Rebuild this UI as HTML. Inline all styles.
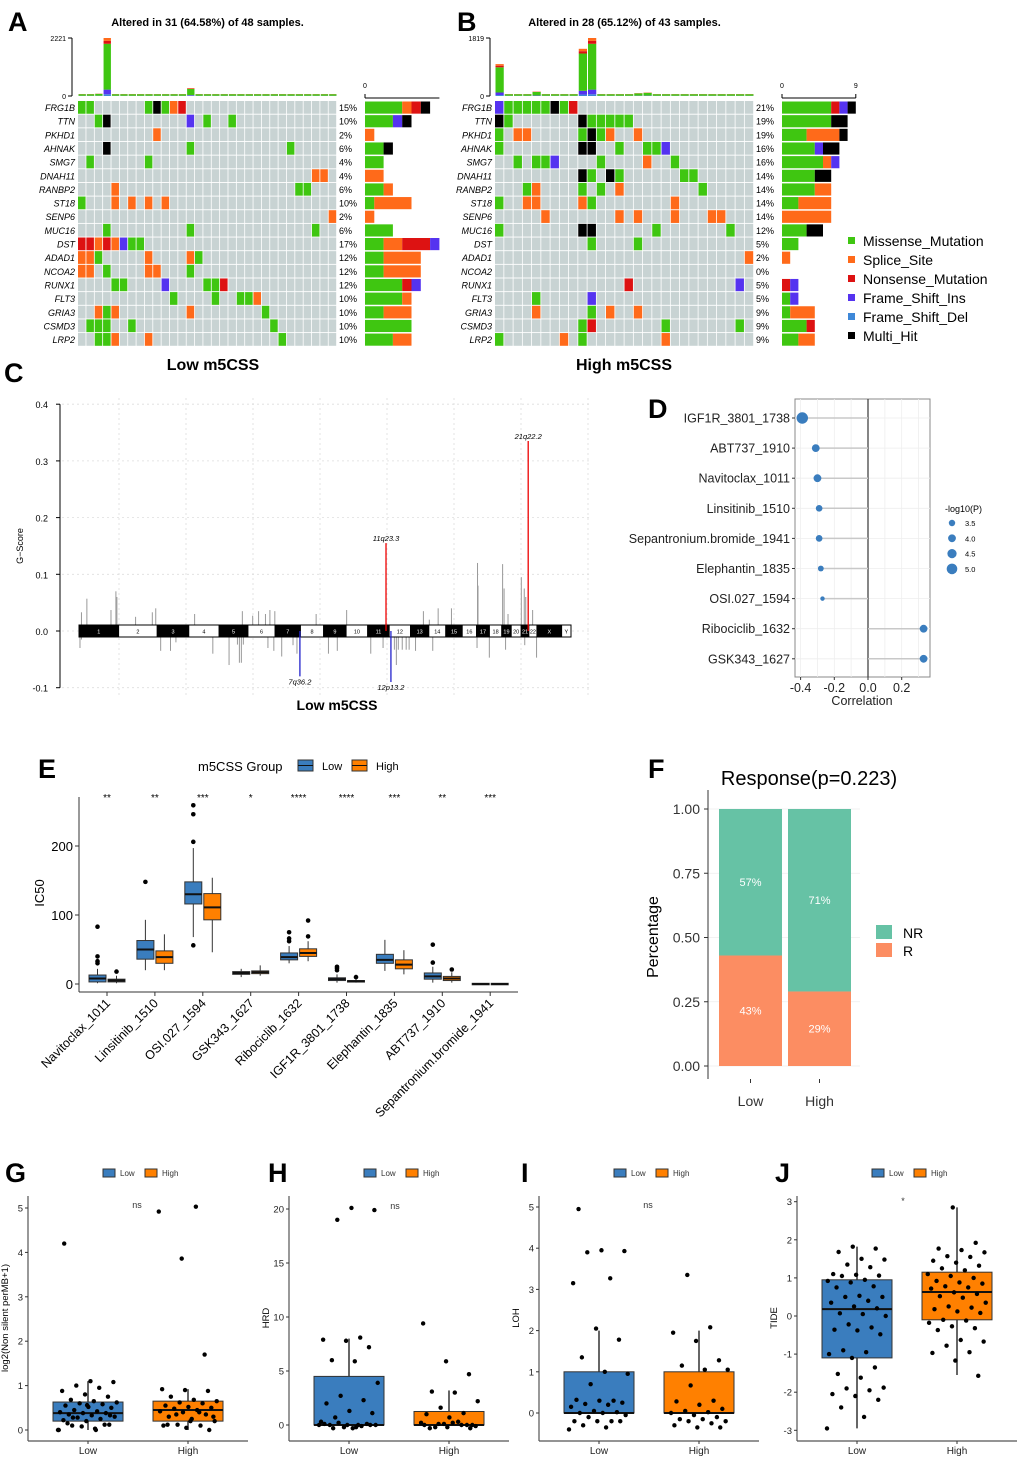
<!DOCTYPE html>
<html><head><meta charset="utf-8"><style>
html,body{margin:0;padding:0;background:#fff;}
svg{display:block;font-family:"Liberation Sans",Arial,sans-serif;}
</style></head><body>
<svg id="fig" width="1020" height="1460" viewBox="0 0 1020 1460" xmlns="http://www.w3.org/2000/svg"></svg>
<script>
// ===== DATA =====
const genes=["FRG1B","TTN","PKHD1","AHNAK","SMG7","DNAH11","RANBP2","ST18","SENP6","MUC16","DST","ADAD1","NCOA2","RUNX1","FLT3","GRIA3","CSMD3","LRP2"];
const lowMut=["0g 1g 8g 9k 10g 11o 12r","2g 3k 13p 15g 18g","9o","3k 13g 25g","1g 8g","28o 29o","4o 26g 27g","0g 4o 6o 8o 10o","30o","3g 13g 28g","0r 1r 2o 3r 4o 5p 6g 7g","0o 1o 2g 8o 13o 14g","0o 1o 3g 8o 9o 13g","4g 5g 10p 15g 16g 17r","11g 16g 19g 20g 21o","2o 3g 4o 13o 22g","1g 2g 3g 6g 23g","2g 3g 4o 8o 24g"];
const lowPct=["15%","10%","2%","6%","4%","4%","6%","10%","2%","6%","17%","12%","12%","12%","10%","10%","10%","10%"];
const highMut=["0p 1g 2g 3g 4g 5g 6k 7g 8r","0k 1g 9k 10g 11g 12g 13g 14g","0g 2o 3o 9g 10k 11g 12o 15o","0g 9k 10k 13g 16g 17g 18p","2g 4g 5g 6p 11g 16o 19g","9k 10g 12k 13g 20g 21g","3g 4o 9g 11g 13o 22g","0g 3o 4o 9o 10g 19o","5o 13o 15o 19o 23o 24o","0g 9k 10k 17g 25g","10g 15g","27o","","14r 26p","4g 10p","4o 10g 12o 15o","9g 10r 18g 26g","0g 7o 9g 18o"];
const highPct=["21%","19%","19%","16%","16%","14%","14%","14%","14%","12%","5%","2%","0%","5%","5%","9%","9%","9%"];
const lowTMB=[40,60,90,2221,60,20,30,25,40,20,20,20,20,300,20,20,20,20,20,30,20,20,30,20,50,20,20,20,20,20,20];
const highTMB=[1000,20,20,20,140,50,30,60,20,1480,1819,30,30,30,60,90,110,50,30,20,20,20,50,60,40,20,20,20];
const mutTypes=["g","o","r","p","b","k"];
const mutNames=["Missense_Mutation","Splice_Site","Nonsense_Mutation","Frame_Shift_Ins","Frame_Shift_Del","Multi_Hit"];
const chromNames=["1","2","3","4","5","6","7","8","9","10","11","12","13","14","15","16","17","18","19","20","21","22","X","Y"];
const chromSize=[249,243,198,191,181,171,159,146,141,136,135,134,115,107,103,90,81,78,59,63,48,51,155,59];
const cnPos=[0.5,1.6,6.5,7.5,7.7,11.5,14.9,15.6,23.5,33.2,35.3,36.5,37.9,38.8,39.8,48.2,54.4,70,71.2,73,75.7,81,81.1,86.1,86.4,87.2,89.9,90.5,90.8,92.2,0.2,0.5,16.6,18.6,19.7,27.2,30.5,32.2,32.6,33,33.4,38.4,39.6,41.2,43.5,44.3,50.7,52.5,59.3,61.8,64.1,64.5,64.9,65.7,66.5,67.1,68.4,71.9,80.9,83.4,86.7,90.6,93];
const cnVal=[0.033,0.057,0.037,0.07,0.06,0.025,0.033,0.04,0.03,0.035,0.027,0.035,0.03,0.037,0.035,0.03,0.037,0.035,0.02,0.04,0.04,0.12,0.08,0.118,0.075,0.03,0.095,0.075,0.06,0.037,-0.03,-0.015,-0.035,-0.035,-0.02,-0.04,-0.06,-0.024,-0.056,-0.056,-0.024,-0.03,-0.035,-0.045,-0.025,-0.04,-0.04,-0.035,-0.04,-0.03,-0.033,-0.06,-0.033,-0.033,-0.033,-0.033,-0.035,-0.035,-0.03,-0.047,-0.033,-0.025,-0.047];
const peakPos=[62.4,91.3,44.9,63.4];
const peakVal=[0.155,0.335,-0.08,-0.09];
const peakLab=["11q23.3","21q22.2","7q36.2","12p13.2"];
const drugD=["IGF1R_3801_1738","ABT737_1910","Navitoclax_1011","Linsitinib_1510","Sepantronium.bromide_1941","Elephantin_1835","OSI.027_1594","Ribociclib_1632","GSK343_1627"];
const corrD=[-0.39,-0.31,-0.30,-0.29,-0.29,-0.28,-0.27,0.33,0.33];
const logpD=[5.3,4.0,4.0,3.6,3.6,3.3,2.8,4.0,4.0];
const drugE=["Navitoclax_1011","Linsitinib_1510","OSI.027_1594","GSK343_1627","Ribociclib_1632","IGF1R_3801_1738","Elephantin_1835","ABT737_1910","Sepantronium.bromide_1941"];
const sigE=["**","**","***","*","****","****","***","**","***"];
const lowBoxE=[[1,3,8,13,22],[20,36,50,63,93],[68,116,130,148,197],[10,14,16,18,22],[30,35,39,45,55],[2,5,7,9,14],[19,30,35,43,64],[2,7,11,16,25],[0,0,0,1,1]];
const highBoxE=[[1,3,5,7,12],[20,30,39,48,72],[46,93,111,131,154],[12,15,17,19,27],[33,40,45,51,62],[2,3,4,5,8],[14,22,28,35,49],[2,5,8,11,17],[0,0,0,1,1]];
const lowOutE=[[30,33,40,83],[148],[56,206,246,259],[],[62,66,75],[20,23,25],[],[31,57],[]];
const highOutE=[[18],[],[],[],[69,92],[10],[],[21],[]];
const respGroups=["Low","High"];
const respR=[0.43,0.29];
const respNR=[0.57,0.71];
const gLow=[0,0.03,0.1,0.12,0.2,0.22,0.25,0.28,0.3,0.33,0.35,0.38,0.38,0.4,0.42,0.45,0.5,0.52,0.55,0.58,0.6,0.62,0.65,0.68,0.75,0.8,0.88,0.95,1.0,1.08,1.1,0.15,0.12,0.08,0,0,0.28,0.33,0.56,4.2];
const gHigh=[0,0.05,0.1,0.1,0.12,0.2,0.25,0.3,0.35,0.4,0.42,0.45,0.48,0.5,0.52,0.55,0.6,0.62,0.65,0.68,0.75,0.88,0.9,0.92,0.4,0.35,0.3,0.2,0.12,1.7,3.86,4.92,5.03];
const hLow=[0,-0.2,-0.3,0,0,0.1,-0.1,0.2,0,-0.3,0,0.1,-0.2,0.3,0,0.7,1.1,1.3,2,2.3,2.7,3.9,5.9,6,7.2,7.8,7.9,8.1,19,19.9,20.1];
const hHigh=[-0.3,-0.2,0,0,0.1,-0.1,0.2,-0.3,0,0.1,0.2,0.3,-0.2,0,0.7,1,1.1,1.6,2.2,3,3.1,4.7,5.9,9.4];
const iLow=[-0.4,-0.35,-0.3,-0.2,-0.2,-0.2,-0.2,-0.1,-0.05,0,0,0.02,0.05,0.15,0.2,0.22,0.25,0.3,0.32,0.3,0.7,0.95,1,1.35,1.78,2.05,3.15,3.27,3.9,3.93,3.95,4.95];
const iHigh=[-0.35,-0.35,-0.3,-0.25,-0.2,-0.2,-0.15,-0.15,-0.1,-0.05,0,0.02,0.05,0.1,0.2,0.28,0.3,0.67,1.05,1.05,1.15,1.28,1.75,1.95,2.08,3.35];
const jLow=[-2.95,-2.65,-2.4,-2.2,-2.1,-2.05,-1.95,-1.9,-1.88,-1.62,-1.52,-1.35,-1.1,-1.0,-0.95,-0.9,-0.48,-0.38,-0.36,-0.3,-0.22,0.0,0.05,0.07,0.2,0.25,0.35,0.4,0.5,0.5,0.53,0.75,0.78,0.88,0.92,0.95,1.05,1.06,1.08,1.1,1.28,1.35,1.48,1.5,1.68,1.77,1.82];
const jHigh=[-1.57,-1.17,-0.97,-0.95,-0.78,-0.67,-0.63,-0.37,-0.32,-0.27,-0.18,-0.12,-0.1,0.08,0.12,0.18,0.22,0.25,0.35,0.48,0.52,0.58,0.62,0.72,0.75,0.78,0.85,0.88,0.92,1.0,1.05,1.1,1.2,1.25,1.32,1.4,1.45,1.55,1.57,1.67,1.73,1.77,1.92,2.85];
// ===== HELPERS =====
const NS="http://www.w3.org/2000/svg";
const svg=document.getElementById("fig");
function mk(tag,attrs,name,parent){
  const el=document.createElementNS(NS,tag);
  for(const k in attrs) el.setAttribute(k,attrs[k]);
  
  
  (parent||svg).appendChild(el);return el;
}
function tx(x,y,s,size,name,opt){
  opt=opt||{};
  const a={x:x,y:y,"font-size":size,fill:opt.fill||"#000"};
  if(opt.anchor)a["text-anchor"]=opt.anchor;
  if(opt.weight)a["font-weight"]=opt.weight;
  if(opt.style)a["font-style"]=opt.style;
  if(opt.transform)a.transform=opt.transform;
  const t=mk("text",a,name);t.textContent=s;return t;
}
function ln(x1,y1,x2,y2,stroke,w,name,dash){
  const a={x1:x1,y1:y1,x2:x2,y2:y2,stroke:stroke,"stroke-width":w};
  if(dash)a["stroke-dasharray"]=dash;
  return mk("line",a,name);
}
function rc(x,y,w,h,fill,name,stroke){
  const a={x:x,y:y,width:w,height:h,fill:fill};
  if(stroke){a.stroke=stroke;a["stroke-width"]=1;}
  return mk("rect",a,name);
}
const mutCol={g:"#3FC611",o:"#FF6A1A",r:"#DD1212",p:"#5533F0",b:"#3E88D8",k:"#000000"};
// ===== PANEL LABELS =====
[["A",8,31],["B",457,31],["C",4,382],["D",648,418],["E",38,778],["F",648,778],["G",5,1182],["H",268,1182],["I",521,1182],["J",775,1182]].forEach(p=>tx(p[1],p[2],p[0],27,"panel-label-"+p[0].toLowerCase(),{weight:"bold"}));
// ===== ONCOPLOTS =====
function oncoplot(cfg){
  const n=cfg.tmb.length, cw=(cfg.x1-cfg.x0)/n, rh=13.65, y0=101;
  tx((cfg.x0+cfg.x1)/2,26,cfg.title,11,cfg.id+"-title",{anchor:"middle",weight:"bold"});
  const maxT=cfg.maxT, yb=96, ht=58;
  ln(cfg.ax,yb-ht,cfg.ax,yb,"#000",1,cfg.id+"-tmb-axis");
  ln(cfg.ax-4,yb-ht,cfg.ax,yb-ht,"#000",1,cfg.id+"-tmb-tick-max");
  ln(cfg.ax-4,yb,cfg.ax,yb,"#000",1,cfg.id+"-tmb-tick-0");
  tx(cfg.ax-6,yb-ht+3,String(maxT),7,cfg.id+"-tmb-max-label",{anchor:"end"});
  tx(cfg.ax-6,yb+3,"0",7,cfg.id+"-tmb-zero-label",{anchor:"end"});
  const fr=[["b",0.03],["p",0.08],["g",0.79],["r",0.05],["o",0.05]];
  cfg.tmb.forEach((v,i)=>{
    const h=Math.max(2,v/maxT*ht); let yy=yb;
    fr.forEach(f=>{const hh=h*f[1];yy-=hh;rc(cfg.x0+i*cw+0.5,yy,cw-1,hh,mutCol[f[0]],cfg.id+"-tmb-bar");});
  });
  genes.forEach((g,r)=>{
    const y=y0+r*rh;
    const cells={};cfg.mut[r].split(" ").filter(s=>s).forEach(s=>{const m=s.match(/(\d+)(\w)/);cells[+m[1]]=m[2];});
    for(let c=0;c<n;c++) rc(cfg.x0+c*cw,y,cw-0.8,rh-0.9,cells[c]?mutCol[cells[c]]:"#C8D3D3",cfg.id+"-cell");
    tx(cfg.x0-3,y+10,g,9,cfg.id+"-gene-label",{anchor:"end",style:"italic"});
    tx(cfg.x1+2,y+10,cfg.pct[r],9,cfg.id+"-pct-label");
    const counts={};Object.values(cells).forEach(t=>counts[t]=(counts[t]||0)+1);
    let xx=cfg.rx;
    mutTypes.forEach(t=>{if(counts[t]){const w=counts[t]*cfg.unit;rc(xx,y+0.5,w,rh-1.5,mutCol[t],cfg.id+"-gene-bar");xx+=w;}});
  });
  ln(cfg.rx,98,cfg.rx+cfg.rmax*cfg.unit,98,"#000",1,cfg.id+"-count-axis");
  ln(cfg.rx,94,cfg.rx,98,"#000",1,cfg.id+"-count-tick");
  tx(cfg.rx,88,"0",7,cfg.id+"-count-0",{anchor:"middle"});
  if(cfg.showMax){ln(cfg.rx+cfg.rmax*cfg.unit,94,cfg.rx+cfg.rmax*cfg.unit,98,"#000",1,cfg.id+"-count-tick");tx(cfg.rx+cfg.rmax*cfg.unit,88,String(cfg.rmax),7,cfg.id+"-count-max",{anchor:"middle"});}
  tx(cfg.cx,370,cfg.sub,16,cfg.id+"-group-title",{anchor:"middle",weight:"bold"});
}
oncoplot({id:"a",tmb:lowTMB,mut:lowMut,pct:lowPct,x0:78,x1:337,ax:72,maxT:2221,rx:365,unit:9.3,rmax:8,showMax:false,title:"Altered in 31 (64.58%) of 48 samples.",sub:"Low m5CSS",cx:213});
oncoplot({id:"b",tmb:highTMB,mut:highMut,pct:highPct,x0:495,x1:754,ax:490,maxT:1819,rx:782,unit:8.2,rmax:9,showMax:true,title:"Altered in 28 (65.12%) of 43 samples.",sub:"High m5CSS",cx:624});
mutNames.forEach((m,i)=>{rc(848,237+i*19,7,7,mutCol[mutTypes[i]],"legend-swatch-"+i);tx(863,246+i*19,m,14,"legend-entry-"+i);});
// ===== PANEL C =====
(function(){
  const X0=79,X1=571,yz=631,k=567; const ys=v=>yz-v*k;
  const tot=chromSize.reduce((a,b)=>a+b,0); const xg=p=>X0+p/100*(X1-X0);
  for(let i=0;i<8;i++) ln(119+i*67,398,119+i*67,695,"#ddd",0.8,"c-grid-v","2,3");
  [0.4,0.3,0.2,0.1,0,-0.1].forEach(v=>{ln(62,ys(v),590,ys(v),"#ddd",0.8,"c-grid-h","2,3");ln(56,ys(v),60,ys(v),"#000",1,"c-ytick");tx(48,ys(v)+4,v.toFixed(1),9,"c-ytick-label",{anchor:"end"});});
  ln(60,ys(0.4),60,ys(-0.1),"#000",1,"c-y-axis");
  tx(23,ys(0.15),"G−Score",9,"c-y-title",{anchor:"middle",transform:`rotate(-90 23 ${ys(0.15)})`});
  cnPos.forEach((p,i)=>ln(xg(p),ys(cnVal[i]>0?0.01:-0.01),xg(p),ys(cnVal[i]),"#999",1,"c-cn-bar"));
  let acc=0;
  chromSize.forEach((s,i)=>{const x=X0+acc/tot*(X1-X0),w=s/tot*(X1-X0);const dark=i%2===0;rc(x,625,w,12,dark?"#000":"#fff","c-chrom-"+chromNames[i],"#000");tx(x+w/2,633.5,chromNames[i],5.5,"c-chrom-label",{anchor:"middle",fill:dark?"#fff":"#000"});acc+=s;});
  peakPos.forEach((p,i)=>{const up=peakVal[i]>0;ln(xg(p),ys(0),xg(p),ys(peakVal[i]),up?"#E00":"#22C",1.3,"c-peak-"+peakLab[i]);tx(xg(p),up?ys(peakVal[i])-2:ys(peakVal[i])+8,peakLab[i],7.5,"c-peak-label",{anchor:"middle",style:"italic"});});
  tx(337,710,"Low m5CSS",14,"c-x-title",{anchor:"middle",weight:"bold"});
})();
// ===== PANEL D =====
(function(){
  const x0=795,x1=930,y0=399,y1=677; const xs=v=>868+v*168.5; const yr=i=>418+i*30.1;
  rc(x0,y0,x1-x0,y1-y0,"#fff","d-plot-bg","#888");
  [-0.4,-0.3,-0.2,-0.1,0.1,0.2,0.3].forEach(v=>ln(xs(v),y0,xs(v),y1,"#eee",0.8,"d-grid-v"));
  drugD.forEach((d,i)=>{ln(x0,yr(i),x1,yr(i),"#eee",0.8,"d-grid-h");});
  ln(xs(0),y0,xs(0),y1,"#444",1.3,"d-zero-line");
  drugD.forEach((d,i)=>{
    ln(xs(0),yr(i),xs(corrD[i]),yr(i),"#c8c8c8",1.5,"d-stem");
    mk("circle",{cx:xs(corrD[i]),cy:yr(i),r:Math.max(1.2,3.2+(logpD[i]-3.5)*1.4),fill:"#3A7DBE"},"d-point-"+d);
    ln(x0-3,yr(i),x0,yr(i),"#333",1,"d-ytick");
    tx(x0-5,yr(i)+4.5,d,12.5,"d-ytick-label",{anchor:"end",fill:"#222"});
  });
  [-0.4,-0.2,0,0.2].forEach(v=>{ln(xs(v),y1,xs(v),y1+3,"#333",1,"d-xtick");tx(xs(v),y1+15,v.toFixed(1),12.5,"d-xtick-label",{anchor:"middle",fill:"#222"});});
  tx(862,705,"Correlation",12.5,"d-x-title",{anchor:"middle",fill:"#222"});
  tx(945,512,"-log10(P)",9,"d-legend-title");
  [3.5,4.0,4.5,5.0].forEach((v,i)=>{mk("circle",{cx:952,cy:523+i*15.3,r:3.2+(v-3.5)*1.4,fill:"#3A7DBE"},"d-legend-circle");tx(965,526+i*15.3,v.toFixed(1),7.5,"d-legend-label");});
})();
// ===== box helper =====
function box(cx,hw,st,ys,fill,name,lw){
  ln(cx,ys(st[0]),cx,ys(st[4]),"#333",lw||1,name+"-whisker");
  rc(cx-hw,ys(st[3]),hw*2,Math.max(1.5,ys(st[1])-ys(st[3])),fill,name+"-box","#333");
  ln(cx-hw,ys(st[2]),cx+hw,ys(st[2]),"#111",2,name+"-median");
}
// ===== PANEL E =====
(function(){
  const ys=v=>984-v*0.69; const xc=i=>107+i*47.9;
  tx(198,771,"m5CSS Group",13,"e-legend-title");
  rc(298,760,15,11,"#3A7DBE","e-legend-low-key","#333");ln(298,765.5,313,765.5,"#111",1,"e-legend-low-median");
  tx(322,770,"Low",11,"e-legend-low-label");
  rc(352,760,15,11,"#FF8000","e-legend-high-key","#333");ln(352,765.5,367,765.5,"#111",1,"e-legend-high-median");
  tx(376,770,"High",11,"e-legend-high-label");
  ln(79,797,79,992,"#333",1,"e-y-axis");ln(79,992,518,992,"#333",1,"e-x-axis");
  [0,100,200].forEach(v=>{ln(75,ys(v),79,ys(v),"#333",1,"e-ytick");tx(73,ys(v)+5,String(v),13,"e-ytick-label",{anchor:"end"});});
  tx(44,893,"IC50",13,"e-y-title",{anchor:"middle",transform:"rotate(-90 44 893)"});
  drugE.forEach((d,i)=>{
    box(xc(i)-9.5,8.5,lowBoxE[i],ys,"#3A7DBE","e-"+d+"-low");
    box(xc(i)+9.5,8.5,highBoxE[i],ys,"#FF8000","e-"+d+"-high");
    lowOutE[i].forEach(v=>mk("circle",{cx:xc(i)-9.5,cy:ys(v),r:2.3,fill:"#000"},"e-outlier"));
    highOutE[i].forEach(v=>mk("circle",{cx:xc(i)+9.5,cy:ys(v),r:2.3,fill:"#000"},"e-outlier"));
    tx(xc(i),801,sigE[i],10,"e-sig-label",{anchor:"middle"});
    ln(xc(i),992,xc(i),996,"#333",1,"e-xtick");
    tx(xc(i)+4,1004,d,12.5,"e-xtick-label",{anchor:"end",transform:`rotate(-45 ${xc(i)+4} 1004)`});
  });
})();
// ===== PANEL F =====
(function(){
  const ys=v=>1066-v*257; const xb=[719,788], bw=63;
  [0,0.25,0.5,0.75,1].forEach(v=>ln(708,ys(v),860,ys(v),"#eee",0.8,"f-grid-h"));
  respGroups.forEach((g,i)=>{
    rc(xb[i],ys(respR[i]),bw,ys(0)-ys(respR[i]),"#FC8D62","f-bar-r-"+g);
    rc(xb[i],ys(1),bw,ys(respR[i])-ys(1),"#66C2A5","f-bar-nr-"+g);
    tx(xb[i]+bw/2,ys(respR[i]/2)+4,Math.round(respR[i]*100)+"%",11,"f-r-label",{anchor:"middle",fill:"#fff"});
    tx(xb[i]+bw/2,ys(respR[i]+respNR[i]/2)+4,Math.round(respNR[i]*100)+"%",11,"f-nr-label",{anchor:"middle",fill:"#fff"});
    ln(xb[i]+bw/2,1079,xb[i]+bw/2,1083,"#333",1,"f-xtick");
    tx(xb[i]+bw/2,1106,g,14,"f-xtick-label",{anchor:"middle",fill:"#333"});
  });
  ln(708,790,708,1079,"#333",1,"f-y-axis");
  [0,0.25,0.5,0.75,1].forEach(v=>{ln(704,ys(v),708,ys(v),"#333",1,"f-ytick");tx(700,ys(v)+5,v.toFixed(2),14,"f-ytick-label",{anchor:"end",fill:"#333"});});
  tx(658,937,"Percentage",16,"f-y-title",{anchor:"middle",transform:"rotate(-90 658 937)"});
  tx(809,785,"Response(p=0.223)",20,"f-title",{anchor:"middle"});
  rc(876,925,16,14,"#66C2A5","f-legend-nr-key");tx(903,938,"NR",14,"f-legend-nr-label");
  rc(876,943,16,14,"#FC8D62","f-legend-r-key");tx(903,956,"R",14,"f-legend-r-label");
})();
// ===== BOTTOM PANELS =====
function jit(i){return ((i*0.6180339)%1)-0.5;}
function bottom(c){
  const ys=v=>c.y0-v*c.k;
  ln(c.ax,1196,c.ax,1441,"#555",1.2,c.id+"-y-axis");ln(c.ax,1441,c.ax+220,1441,"#555",1.2,c.id+"-x-axis");
  c.ticks.forEach(v=>{ln(c.ax-3,ys(v),c.ax,ys(v),"#333",1,c.id+"-ytick");tx(c.ax-5,ys(v)+3.5,String(v),9.5,c.id+"-ytick-label",{anchor:"end",fill:"#222"});});
  tx(c.ax-20,1318,c.ylab,9.5,c.id+"-y-title",{anchor:"middle",transform:`rotate(-90 ${c.ax-20} 1318)`});
  const cx=[c.ax+60,c.ax+160];
  box(cx[0],35,c.lowBox,ys,"#3A7DBE",c.id+"-low",1.5);
  box(cx[1],35,c.highBox,ys,"#FF8000",c.id+"-high",1.5);
  c.low.forEach((v,i)=>mk("circle",{cx:cx[0]+jit(i)*60,cy:ys(v),r:2.2,fill:"#000"},c.id+"-point-low"));
  c.high.forEach((v,i)=>mk("circle",{cx:cx[1]+jit(i+3)*60,cy:ys(v),r:2.2,fill:"#000"},c.id+"-point-high"));
  ["Low","High"].forEach((g,i)=>{ln(cx[i],1441,cx[i],1444,"#333",1,c.id+"-xtick");tx(cx[i],1454,g,10,c.id+"-xtick-label",{anchor:"middle",fill:"#222"});});
  tx(c.ax+c.sigdx,c.sigy,c.sig,9,c.id+"-sig-label",{anchor:"middle",fill:"#333"});
  const lx=c.ax+75;
  rc(lx,1169,12,8,"#3A7DBE",c.id+"-legend-low-key","#333");tx(lx+17,1176,"Low",8,c.id+"-legend-low-label",{fill:"#333"});
  rc(lx+42,1169,12,8,"#FF8000",c.id+"-legend-high-key","#333");tx(lx+59,1176,"High",8,c.id+"-legend-high-label",{fill:"#333"});
}
bottom({id:"g",ax:28,y0:1430,k:44.4,ticks:[0,1,2,3,4,5],ylab:"log2(Non silent perMB+1)",lowBox:[0,0.2,0.38,0.63,1.1],highBox:[0,0.2,0.45,0.65,0.92],low:gLow,high:gHigh,sig:"ns",sigdx:109,sigy:1208});
bottom({id:"h",ax:289,y0:1425,k:10.8,ticks:[0,5,10,15,20],ylab:"HRD",lowBox:[0,0,0,4.5,8],highBox:[0,0,0,1.25,3.2],low:hLow,high:hHigh,sig:"ns",sigdx:106,sigy:1209});
bottom({id:"i",ax:539,y0:1413,k:41.2,ticks:[0,1,2,3,4,5],ylab:"LOH",lowBox:[0,0,0,1,2],highBox:[0,0,0,1,2],low:iLow,high:iHigh,sig:"ns",sigdx:109,sigy:1208});
bottom({id:"j",ax:797,y0:1316,k:38.1,ticks:[-3,-2,-1,0,1,2,3],ylab:"TIDE",lowBox:[-2.95,-1.1,0.18,0.95,1.82],highBox:[-1.55,-0.1,0.63,1.15,2.85],low:jLow,high:jHigh,sig:"*",sigdx:106,sigy:1204});
</script>
</body></html>
